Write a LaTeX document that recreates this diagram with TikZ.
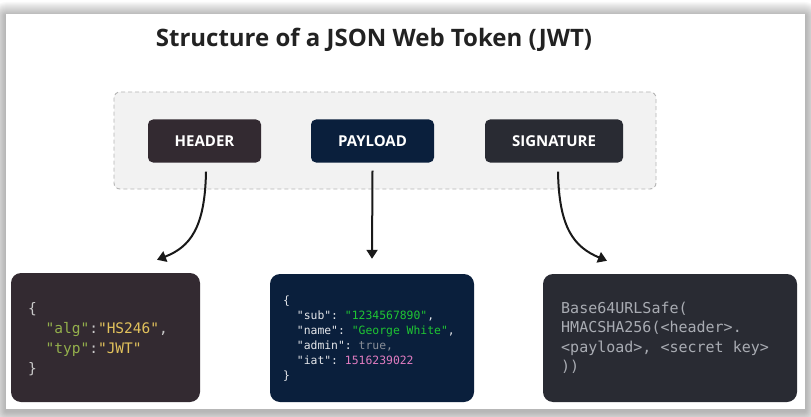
\documentclass[tikz,border=0pt]{standalone}
\usepackage{fontspec}
\setmainfont{Open Sans}
\newfontfamily\codefont{DejaVu Sans Mono}
\usetikzlibrary{arrows.meta}
\definecolor{hdrfill}{HTML}{332A31}
\definecolor{payfill}{HTML}{0A1F3C}
\definecolor{sigfill}{HTML}{292B33}
\definecolor{contfill}{HTML}{F2F2F2}
\definecolor{contline}{HTML}{B4B4B4}
\definecolor{titlecol}{HTML}{222222}
\definecolor{punct}{HTML}{C9C9C9}
\definecolor{hkey}{HTML}{94B04C}
\definecolor{hval}{HTML}{E2C25C}
\definecolor{pkey}{HTML}{E4E6EA}
\definecolor{pstr}{HTML}{1FC633}
\definecolor{pbool}{HTML}{8A8F99}
\definecolor{pnum}{HTML}{E07CC0}
\definecolor{sigtext}{HTML}{A9ACB3}
\tikzset{
  part/.style={rounded corners=5pt, minimum height=43pt, inner sep=0pt,
    text=white, font=\fontsize{15}{17}\selectfont\bfseries},
  codebox/.style={rounded corners=10pt, inner sep=0pt},
  codeline/.style={anchor=base west, inner sep=0pt},
  conn/.style={line width=2pt, black!90, -{Triangle[length=9pt,width=11pt]}},
}
\begin{document}
\begin{tikzpicture}[x=1pt,y=-1pt]
\useasboundingbox (0,0) rectangle (811,417);
% shadow around the card
\foreach \k in {1,...,14}{
  \fill[black, opacity=0.022, rounded corners=\k pt] (6-\k,14-\k+2) rectangle (805+\k,409+\k+2);
}
\fill[white] (6,14) rectangle (805,409);
% title
\node[anchor=base, font=\fontsize{24}{28}\selectfont\bfseries, text=titlecol, inner sep=0pt] (title) at (374,47) {Structure of a JSON Web Token (JWT)};
% container
\node[draw=contline, fill=contfill, dashed, dash pattern=on 4pt off 3pt, line width=0.9pt, rounded corners=6pt, minimum width=542pt, minimum height=97pt, inner sep=0pt] (cont) at (385,140.5) {};
% parts
\node[part, fill=hdrfill, minimum width=113pt] (hdr) at (204.5,141) {HEADER};
\node[part, fill=payfill, minimum width=123pt] (pay) at (372.5,141) {PAYLOAD};
\node[part, fill=sigfill, minimum width=138pt] (sig) at (554,141) {SIGNATURE};
% code boxes
\node[codebox, fill=hdrfill, minimum width=189pt, minimum height=129pt] (hcode) at (105.5,337.5) {};
\node[codebox, fill=payfill, minimum width=204pt, minimum height=128pt] (pcode) at (372,338) {};
\node[codebox, fill=sigfill, minimum width=254pt, minimum height=128pt] (scode) at (670,338) {};
% header code
\begin{scope}[every node/.style={codeline, font=\codefont\fontsize{14.5}{17}\selectfont}]
\node[text=punct] (h1) at (28,313.5) {\{};
\node (h2) at (28,333.5) {\phantom{\ \ }\textcolor{hkey}{"alg"}\textcolor{punct}{:}\textcolor{hval}{"HS246"}\textcolor{punct}{,}};
\node (h3) at (28,353.5) {\phantom{\ \ }\textcolor{hkey}{"typ"}\textcolor{punct}{:}\textcolor{hval}{"JWT"}};
\node[text=punct] (h4) at (28,373.5) {\}};
\end{scope}
% payload code
\begin{scope}[every node/.style={codeline, font=\codefont\fontsize{11.4}{14}\selectfont}]
\node[text=pkey] (p1) at (283,304.5) {\{};
\node (p2) at (283,319.5) {\phantom{\ \ }\textcolor{pkey}{"sub":\ }\textcolor{pstr}{"1234567890"}\textcolor{pkey}{,}};
\node (p3) at (283,334.5) {\phantom{\ \ }\textcolor{pkey}{"name":\ }\textcolor{pstr}{"George White"}\textcolor{pkey}{,}};
\node (p4) at (283,349.5) {\phantom{\ \ }\textcolor{pkey}{"admin":\ }\textcolor{pbool}{true,}};
\node (p5) at (283,364.5) {\phantom{\ \ }\textcolor{pkey}{"iat":\ }\textcolor{pnum}{1516239022}};
\node[text=pkey] (p6) at (283,379.5) {\}};
\end{scope}
% signature code
\begin{scope}[every node/.style={codeline, text=sigtext, font=\codefont\fontsize{15}{19}\selectfont}]
\node (s1) at (561,313.3) {Base64URLSafe(};
\node (s2) at (561,332.8) {HMACSHA256(<header>.};
\node (s3) at (561,352.3) {<payload>, <secret key>};
\node (s4) at (561,371.8) {))};
\end{scope}
% connectors
\coordinate (hstart) at ([xshift=1.5pt,yshift=-9pt]hdr.south);
\coordinate (hend) at ([xshift=51.5pt,yshift=13pt]hcode.north);
\coordinate (pstart) at ([yshift=-8pt]pay.south);
\coordinate (pend) at ([yshift=15pt]pcode.north);
\coordinate (sstart) at ([xshift=4pt,yshift=-9pt]sig.south);
\coordinate (send) at ([xshift=-63pt,yshift=13pt]scode.north);
\draw[conn] (hstart) .. controls (205,228) and (190,247) .. (hend);
\draw[conn] (pstart) -- (pend);
\draw[conn] (sstart) .. controls (559,228) and (574,247) .. (send);
\end{tikzpicture}
\end{document}
